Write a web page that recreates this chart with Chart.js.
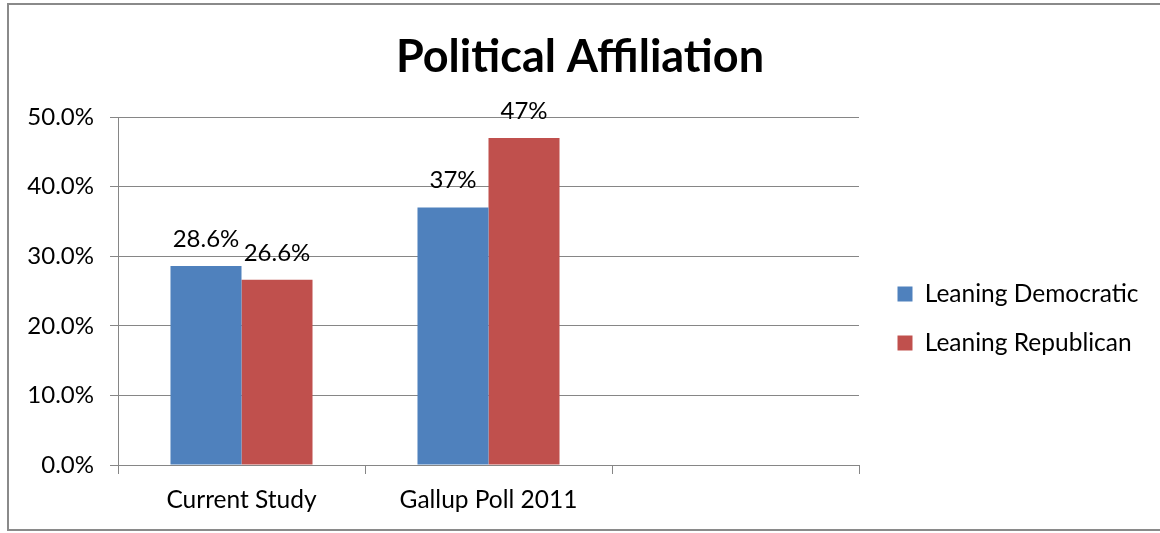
<!DOCTYPE html>
<html><head><meta charset="utf-8">
<script src="https://cdn.jsdelivr.net/npm/chart.js@4/dist/chart.umd.min.js"></script>
<style>
html,body{margin:0;padding:0;background:#fff;overflow:hidden;width:1160px;height:533px;}
#c{position:absolute;left:0;top:0;}
</style></head><body>
<canvas id="c" width="1160" height="533"></canvas>
<script>
const categories = ['Current Study', 'Gallup Poll 2011', ''];
const seriesNames = ['Leaning Democratic', 'Leaning Republican'];
const democratic = [28.6, 37, null];
const republican = [26.6, 47, null];
const democraticLabels = ['28.6%', '37%', ''];
const republicanLabels = ['26.6%', '47%', ''];
const yTicks = [0, 10, 20, 30, 40, 50];

const FONT = 'Lato, "Open Sans", sans-serif';
Chart.defaults.font.family = FONT;
Chart.defaults.color = '#000';

const framePlugin = {
  id: 'frame',
  beforeDraw(chart) {
    const ctx = chart.ctx;
    ctx.save();
    ctx.fillStyle = '#fff';
    ctx.fillRect(0, 0, chart.width, chart.height);
    ctx.strokeStyle = '#8a8a8a';
    ctx.lineWidth = 2;
    ctx.beginPath();
    ctx.moveTo(chart.width + 5, 4);
    ctx.lineTo(8, 4);
    ctx.lineTo(8, 530);
    ctx.lineTo(chart.width + 5, 530);
    ctx.stroke();
    ctx.restore();
  }
};

const valueLabelPlugin = {
  id: 'valueLabels',
  afterDatasetsDraw(chart) {
    const ctx = chart.ctx;
    chart.data.datasets.forEach((ds, i) => {
      const meta = chart.getDatasetMeta(i);
      meta.data.forEach((bar, j) => {
        const txt = ds.valueLabels[j];
        if (!txt) return;
        ctx.save();
        ctx.font = '24px ' + FONT;
        ctx.fillStyle = '#000';
        ctx.textAlign = 'center';
        ctx.textBaseline = 'alphabetic';
        ctx.fillText(txt, bar.x, bar.y - 19);
        ctx.restore();
      });
    });
  }
};

const legendLayoutPlugin = {
  id: 'legendLayout',
  beforeUpdate(chart) {
    const lg = chart.legend;
    if (lg && !lg._patched) {
      const f = lg.fit.bind(lg);
      lg.fit = function () { f(); this.width = 301; };
      lg._patched = true;
    }
  },
  afterLayout(chart) {
    const lg = chart.legend;
    if (!lg) return;
    lg.left += 14; lg.right += 14;
    lg.top += 52; lg.bottom += 52;
  }
};

new Chart(document.getElementById('c'), {
  type: 'bar',
  data: {
    labels: categories,
    datasets: [
      { label: seriesNames[0], data: democratic, backgroundColor: '#4F81BD', valueLabels: democraticLabels, categoryPercentage: 0.575, barPercentage: 1 },
      { label: seriesNames[1], data: republican, backgroundColor: '#C0504D', valueLabels: republicanLabels, categoryPercentage: 0.575, barPercentage: 1 }
    ]
  },
  options: {
    responsive: false,
    animation: false,
    layout: { padding: 0 },
    plugins: {
      title: { display: true, text: 'Political Affiliation', color: '#000', font: { size: 45, weight: 'bold', family: FONT }, padding: { top: 30, bottom: 33 } },
      legend: { position: 'right', labels: { boxWidth: 15, boxHeight: 15, padding: 24.5, color: '#000', font: { size: 24.5, family: FONT } } },
      tooltip: { enabled: false }
    },
    scales: {
      x: {
        grid: { display: true, drawOnChartArea: false, offset: true, tickLength: 9, color: '#868686', lineWidth: 1 },
        border: { color: '#868686' },
        ticks: { font: { size: 24.5 }, padding: 11, maxRotation: 0 },
        afterFit(s) { s.height = 68; }
      },
      y: {
        min: 0, max: 50,
        afterBuildTicks(s) { s.ticks = yTicks.map(v => ({ value: v })); },
        ticks: { font: { size: 24 }, padding: 16, callback: v => v.toFixed(1) + '%' },
        grid: { color: '#868686', tickLength: 8, lineWidth: 1 },
        border: { color: '#868686' },
        afterFit(s) { s.width = 118; }
      }
    }
  },
  plugins: [framePlugin, valueLabelPlugin, legendLayoutPlugin]
});
</script>
</body></html>
